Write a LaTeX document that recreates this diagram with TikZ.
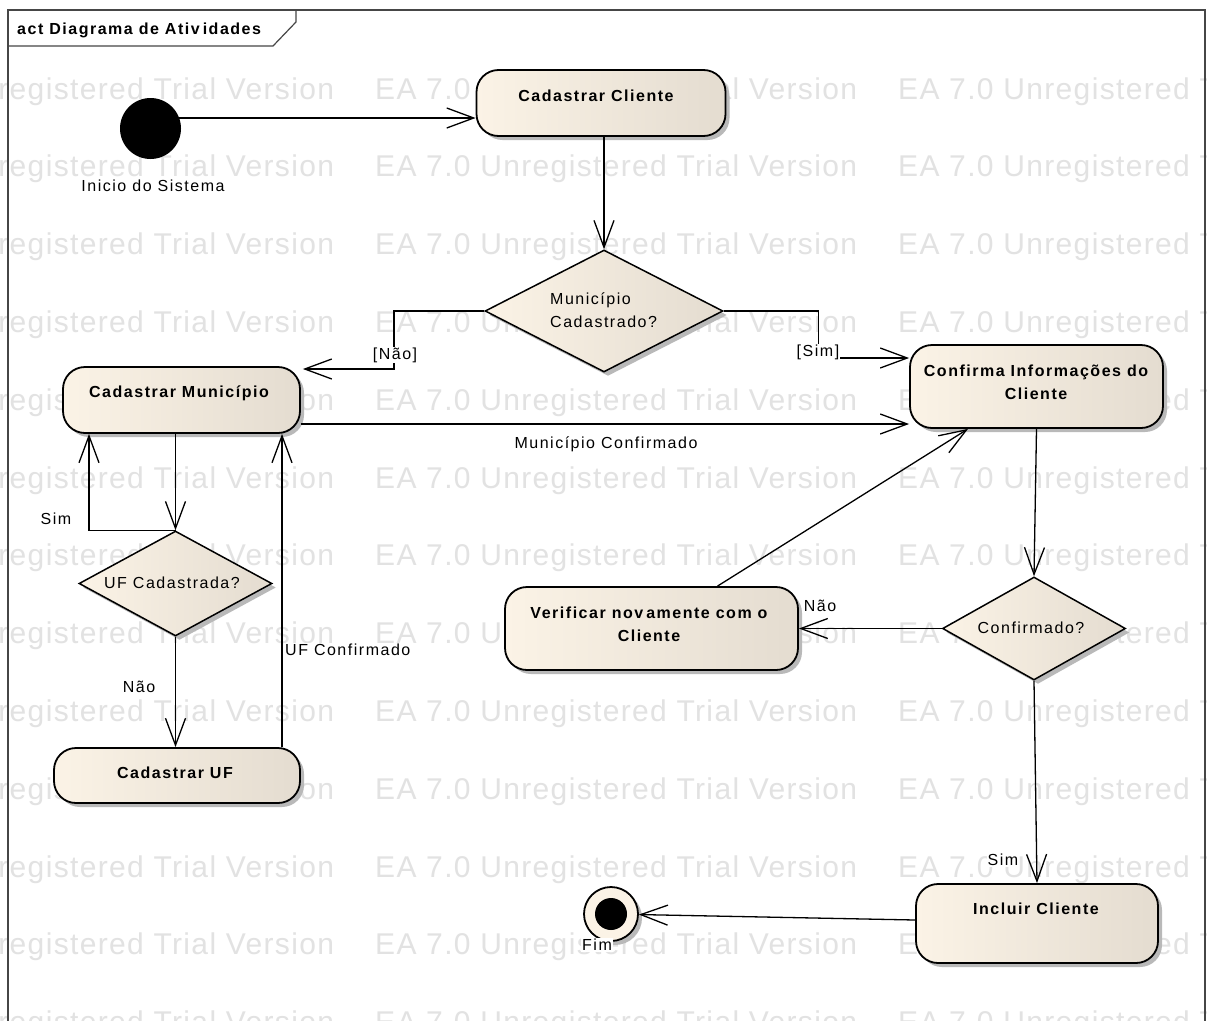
\documentclass[tikz,border=0pt]{standalone}
\usepackage{fontspec}
\setmainfont{Liberation Sans}[LetterSpace=9.5]
\newfontfamily\wmfont{Liberation Sans}[LetterSpace=4.5]
\usetikzlibrary{arrows.meta,shapes.geometric,shadows,calc}
\definecolor{nodeL}{RGB}{251,243,230}
\definecolor{nodeR}{RGB}{228,220,208}
\definecolor{wmgray}{RGB}{226,226,226}
\definecolor{framec}{RGB}{70,70,70}
\definecolor{shadowc}{RGB}{185,185,185}
\begin{document}
\begin{tikzpicture}[x=1pt,y=-1pt,
  conn/.style={line width=1.3pt, draw=black},
  arr/.style={conn, -{Straight Barb[length=27pt,width=20pt]}},
  shad/.style={drop shadow={shadow xshift=4pt, shadow yshift=-4pt, fill=shadowc, opacity=1}},
  act/.style={draw=black, line width=1.8pt, rounded corners=22pt, left color=nodeL, right color=nodeR, shad, inner sep=0pt},
  dec/.style={diamond, draw=black, line width=1.5pt, left color=nodeL, right color=nodeR, shad, inner sep=0pt},
  acttext/.style={font=\fontsize{16}{23}\selectfont\bfseries, align=center, inner sep=0pt},
  dectext/.style={font=\fontsize{16}{23}\selectfont, inner sep=0pt},
  lbl/.style={font=\fontsize{16}{20}\selectfont, fill=white, inner sep=1pt},
  wmtext/.style={font=\fontsize{30}{30}\selectfont\wmfont, text=wmgray, inner sep=0pt}
]
\useasboundingbox (0,0) rectangle (1207,1020);
\fill[white] (0,0) rectangle (1207,1020);
% watermark
\begin{scope}
\clip (0,0) rectangle (1207,1020);
\foreach \k in {0,...,12}{
  \foreach \xx [count=\i] in {-148,375,898}{
    \node[wmtext, anchor=base west] (wm\k-\i) at (\xx, 99+77.8*\k) {EA 7.0 Unregistered Trial Version};
  }}
\end{scope}
% frame
\draw[framec, line width=1.2pt] (8,1022) -- (8,10) -- (1205,10) -- (1205,1022);
\draw[framec, line width=1.2pt] (8,46) -- (273,46) -- (296,22) -- (296,10);
\node[font=\fontsize{16}{20}\selectfont\bfseries, anchor=base west, inner sep=0pt] (title) at (17,34) {act Diagrama de Ativ\kern3pt idades};

% nodes
\node[circle, fill=black, minimum size=61pt, inner sep=0pt] (init) at (150.5,128.5) {};
\node[act, minimum width=249pt, minimum height=66pt] (cc) at (601,103) {};
\node[acttext] (cct) at (596,96) {Cadastrar Cliente};
\node[dec, minimum width=238pt, minimum height=122pt] (d1) at (604,311) {};
\node[dectext, anchor=west, align=left] (d1t) at (550,310) {Município\\Cadastrado?};
\node[act, minimum width=237pt, minimum height=66pt] (cm) at (181.5,400) {};
\node[acttext] (cmt) at (179,393) {Cadastrar Município};
\node[act, minimum width=253pt, minimum height=83pt] (ci) at (1036.5,386.5) {};
\node[acttext] (cit) at (1036,382) {Confirma Informações do\\Cliente};
\node[dec, minimum width=193pt, minimum height=105pt] (d2) at (175.5,583.5) {};
\node[dectext] (d2t) at (172,583) {UF Cadastrada?};
\node[act, minimum width=246pt, minimum height=55pt] (uf) at (177,775.5) {};
\node[acttext] (uft) at (175,773) {Cadastrar UF};
\node[act, minimum width=293pt, minimum height=83pt] (vc) at (651.5,628.5) {};
\node[acttext] (vct) at (649,624) {Verificar nov\kern3pt amente com o\\Cliente};
\node[dec, minimum width=183pt, minimum height=103pt] (d3) at (1034,628.5) {};
\node[dectext] (d3t) at (1031,628) {Confirmado?};
\node[act, minimum width=242pt, minimum height=79pt] (ic) at (1037,923.5) {};
\node[acttext] (ict) at (1036,909) {Incluir Cliente};
\node[circle, draw=black, line width=1.8pt, fill=nodeL, minimum size=54pt, inner sep=0pt, shad] (fin) at (611,914) {};
\node[circle, fill=black, minimum size=32pt, inner sep=0pt] (finin) at (fin) {};

% helper coordinates
\coordinate (naoc) at (394,369);
\coordinate (simc) at (818.6,358);
\coordinate (simx) at (89,0);
\coordinate (ufx) at (282,0);

% connectors
\draw[arr] (init.20) -- (init.20 -| cc.west);
\draw[arr] (cc.south -| d1.north) -- (d1.north);
\draw[arr] (d1.west) -| (naoc) -- ([xshift=2pt]naoc -| cm.east);
\draw[arr] (d1.east) -| (simc) -- (simc -| ci.west);
\draw[arr] ([yshift=-24pt]cm.east) coordinate (mc1) -- (mc1 -| ci.west);
\draw[arr] (d2.north |- cm.south) -- (d2.north);
\draw[arr] (d2.north) -| (simx |- cm.south);
\draw[arr] (d2.south) -- (d2.south |- uf.north);
\draw[arr] (ufx |- uf.north) -- (ufx |- cm.south);
\draw[arr] (ci.south) -- (d3.north);
\draw[arr] (d3.west) -- (vc.east);
\draw[arr] ([xshift=66pt]vc.north) -- ([xshift=-68.5pt]ci.south);
\draw[arr] (d3.south) -- (ic.north);
\draw[arr] ([yshift=3.5pt]ic.west) -- (fin);

% labels
\node[lbl] (linit) at (153,186) {Inicio do Sistema};
\node[lbl] (lnao1) at (395,355) {[Não]};
\node[lbl] (lsim1) at (818,352) {[Sim]};
\node[lbl] (lmc) at (606,444) {Município Confirmado};
\node[lbl] (lsim2) at (56,519) {Sim};
\node[lbl] (lnao2) at (139,687) {Não};
\node[lbl, anchor=west] (lufc) at (284,650) {UF Confirmado};
\node[lbl] (lnao3) at (820,606) {Não};
\node[lbl] (lsim3) at (1003,860) {Sim};
\node[lbl] (lfim) at (597,945) {Fim};
\end{tikzpicture}
\end{document}
